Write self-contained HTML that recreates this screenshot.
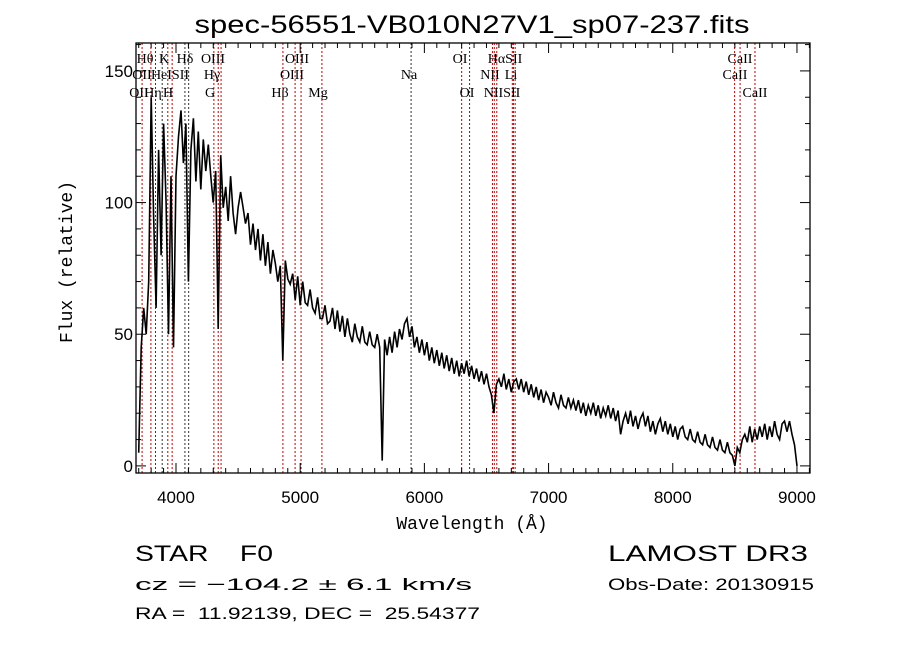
<!DOCTYPE html>
<html><head><meta charset="utf-8">
<style>
html,body{margin:0;padding:0;background:#fff;}
svg{display:block;}
text{font-family:"Liberation Serif","DejaVu Serif",serif;fill:#000;white-space:pre;}
.sans{font-family:"Liberation Sans","DejaVu Sans",sans-serif;}
.mono{font-family:"Liberation Mono","DejaVu Sans Mono",monospace;}
</style></head>
<body>
<svg id="chart" width="900" height="649" viewBox="0 0 900 649" xmlns="http://www.w3.org/2000/svg">
<text x="472" y="33" class="sans" font-size="25" text-anchor="middle" textLength="555" lengthAdjust="spacingAndGlyphs">spec-56551-VB010N27V1_sp07-237.fits</text>
<g id="lines"></g>
<g id="labels" font-size="14">
<text x="145" y="63" text-anchor="middle">Hθ</text>
<text x="164" y="63" text-anchor="middle">K</text>
<text x="185" y="63" text-anchor="middle">Hδ</text>
<text x="213" y="63" text-anchor="middle">OIII</text>
<text x="297" y="63" text-anchor="middle">OIII</text>
<text x="460" y="63" text-anchor="middle">OI</text>
<text x="505" y="63" text-anchor="middle">HαSII</text>
<text x="740" y="63" text-anchor="middle">CaII</text>
<text x="142" y="79" text-anchor="middle">OII</text>
<text x="170" y="79" text-anchor="middle">HeISII</text>
<text x="212" y="79" text-anchor="middle">Hγ</text>
<text x="292" y="79" text-anchor="middle">OIII</text>
<text x="409" y="79" text-anchor="middle">Na</text>
<text x="490" y="79" text-anchor="middle">NII</text>
<text x="511" y="79" text-anchor="middle">Li</text>
<text x="735" y="79" text-anchor="middle">CaII</text>
<text x="139" y="97" text-anchor="middle">OII</text>
<text x="153" y="97" text-anchor="middle">Hη</text>
<text x="168" y="97" text-anchor="middle">H</text>
<text x="210" y="97" text-anchor="middle">G</text>
<text x="280" y="97" text-anchor="middle">Hβ</text>
<text x="318" y="97" text-anchor="middle">Mg</text>
<text x="467" y="97" text-anchor="middle">OI</text>
<text x="502" y="97" text-anchor="middle">NIISII</text>
<text x="755" y="97" text-anchor="middle">CaII</text>
</g>
<path id="spec" fill="none" stroke="#000" stroke-width="1.6"></path>
<g id="axes"></g>
<text x="472" y="529" class="mono" font-size="18" text-anchor="middle">Wavelength (Å)</text>
<text transform="translate(72,262) rotate(-90)" class="mono" font-size="18" text-anchor="middle">Flux (relative)</text>
<text x="135" y="561" class="sans" font-size="22" textLength="138" lengthAdjust="spacingAndGlyphs">STAR    F0</text>
<text x="135" y="590" class="sans" font-size="17" textLength="337" lengthAdjust="spacingAndGlyphs">cz = −104.2 ± 6.1 km/s</text>
<text x="135" y="619" class="sans" font-size="17" textLength="345" lengthAdjust="spacingAndGlyphs">RA =  11.92139, DEC =  25.54377</text>
<text x="608" y="561" class="sans" font-size="22" textLength="200" lengthAdjust="spacingAndGlyphs">LAMOST DR3</text>
<text x="608" y="590" class="sans" font-size="17" textLength="206" lengthAdjust="spacingAndGlyphs">Obs-Date: 20130915</text>
</svg>
<script>
const waveStart = 3700;
const waveStep = 20;
const flux = [5,45,60,50,70,140,95,60,120,80,130,100,50,110,45,
110,125,135,115,130,70,120,132,108,127,105,124,112,122,110,100,112,52,118,98,
106,93,110,96,88,98,104,98,92,96,84,92,82,90,78,88,76,85,73,82,
77,70,76,40,78,71,69,73,63,72,61,70,62,61,67,60,58,64,56,56,
61,54,55,60,52,59,51,57,49,56,50,47,54,49,47,53,47,46,51,46,
45,50,45,2,48,42,49,43,51,45,52,48,54,56,49,53,45,49,43,48,
42,47,40,45,39,44,38,43,37,42,36,41,35,40,34,39,35,40,34,38,
33,37,32,36,31,35,30,27,20,31,33,30,35,29,33,28,32,33,29,33,
28,32,27,31,26,30,25,29,24,28,26,23,28,24,22,27,23,22,26,22,
25,21,25,20,24,19,23,20,24,19,23,18,22,19,23,18,22,17,21,12,
17,20,16,21,15,19,14,18,20,15,19,13,17,12,16,18,13,17,12,16,
11,15,10,14,15,11,10,14,10,9,13,9,8,12,8,7,11,7,6,10,
6,5,9,5,4,0,7,5,10,12,9,15,9,14,10,15,11,16,10,15,
11,17,12,10,16,17,13,17,12,8,0];
const lineWaves = [3727,3798,3835,3889,3934,3969,4072,4102,4305,4340,4363,4861,4959,5007,5175,5893,6300,6364,6548,6563,6583,6708,6717,6731,8498,8542,8662];
const lineRed = [1,1,1,0,1,1,0,0,1,1,1,1,1,1,1,0,1,0,1,1,1,1,1,1,1,1,1];
const xTicks = [4000,5000,6000,7000,8000,9000];
const yTicks = [0,50,100,150];
const X0=136,X1=810,Y0=43,Y1=473;
const xmin=3678,xmax=9105,ymin=-2.7,ymax=160.6;
const sx=w=>X0+(w-xmin)/(xmax-xmin)*(X1-X0);
const sy=f=>Y1-(f-ymin)/(ymax-ymin)*(Y1-Y0);
const NS="http://www.w3.org/2000/svg";
let d="";
flux.forEach((f,i)=>{d+=(i?"L":"M")+sx(waveStart+i*waveStep).toFixed(1)+","+sy(f).toFixed(1);});
document.getElementById('spec').setAttribute('d',d);
const lg=document.getElementById('lines');
lineWaves.forEach((w,i)=>{
  const l=document.createElementNS(NS,'line');
  
  
  l.setAttribute('x1',sx(w));l.setAttribute('x2',sx(w));
  l.setAttribute('y1',Y0);l.setAttribute('y2',Y1);
  l.setAttribute('stroke',lineRed[i]?'#c00000':'#333');
  l.setAttribute('stroke-width','1');
  l.setAttribute('stroke-dasharray','2,2');
  lg.appendChild(l);
});
const ax=document.getElementById('axes');
function mk(tag,attrs){const e=document.createElementNS(NS,tag);for(const k in attrs)e.setAttribute(k,attrs[k]);ax.appendChild(e);return e;}
const frame=mk('rect',{x:X0,y:Y0,width:X1-X0,height:Y1-Y0,fill:'none',stroke:'#000','stroke-width':1.3});


for(let w=3700;w<=9100;w+=100){
  const len=(w%1000===0)?10:5;
  mk('line',{x1:sx(w),x2:sx(w),y1:Y1,y2:Y1-len,stroke:'#000'});
  mk('line',{x1:sx(w),x2:sx(w),y1:Y0,y2:Y0+len,stroke:'#000'});
}
for(let f=0;f<=160;f+=10){
  const len=(f%50===0)?10:5;
  mk('line',{x1:X0,x2:X0+len,y1:sy(f),y2:sy(f),stroke:'#000'});
  mk('line',{x1:X1,x2:X1-len,y1:sy(f),y2:sy(f),stroke:'#000'});
}
xTicks.forEach(t=>{
  const e=mk('text',{x:sx(t),y:503,'text-anchor':'middle','font-size':17,class:'sans'});
  
  
  e.textContent=t;
});
yTicks.forEach(t=>{
  const e=mk('text',{x:X0-3,y:sy(t)+6,'text-anchor':'end','font-size':17,class:'sans'});
  
  
  e.textContent=t;
});
</script>
</body></html>
